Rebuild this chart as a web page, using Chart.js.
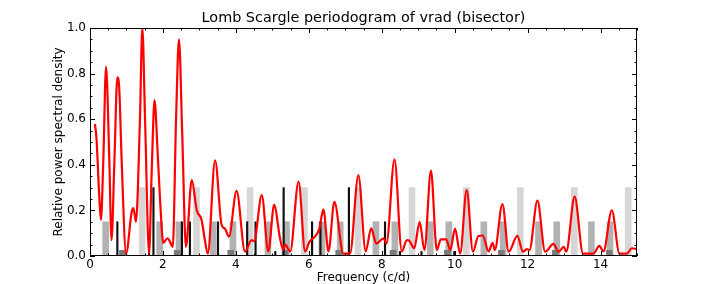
<!DOCTYPE html>
<html>
<head>
<meta charset="utf-8">
<script src="https://cdn.jsdelivr.net/npm/chart.js@4.4.1/dist/chart.umd.min.js"></script>
<style>
html,body{margin:0;padding:0;background:#ffffff;}
#wrap{width:708px;height:284px;}
</style>
</head>
<body>
<div id="wrap"><canvas id="c" width="708" height="284"></canvas></div>
<script>
// ---- data ----
const freq = [0.137,0.18,0.25,0.30,0.365,0.44,0.53,0.59,0.67,0.75,0.80,0.87,0.99,1.14,1.19,1.26,1.37,1.435,1.51,1.62,1.69,1.77,1.85,1.92,2.01,2.12,2.17,2.27,2.36,2.44,2.53,2.63,2.79,2.93,3.06,3.15,3.23,3.43,3.61,3.70,3.81,4.02,4.25,4.43,4.50,4.71,4.89,5.05,5.21,5.30,5.35,5.49,5.72,5.90,6.02,6.17,6.29,6.40,6.54,6.70,6.95,7.13,7.36,7.56,7.71,7.85,8.05,8.13,8.35,8.55,8.69,8.75,8.89,9.04,9.17,9.35,9.51,9.62,9.77,9.88,10.01,10.15,10.33,10.50,10.65,10.77,10.93,11.04,11.10,11.31,11.48,11.72,11.87,11.98,12.05,12.27,12.48,12.71,12.85,12.99,13.06,13.29,13.52,13.80,13.97,14.08,14.31,14.52,14.72,14.86,15.0];
const power = [0.579,0.51,0.275,0.158,0.42,0.83,0.42,0.07,0.42,0.784,0.74,0.41,0.01,0.19,0.21,0.15,0.60,1.0,0.60,0.01,0.36,0.684,0.47,0.25,0.057,0.077,0.07,0.04,0.60,0.95,0.53,0.04,0.333,0.20,0.158,0.07,0.01,0.42,0.136,0.12,0.085,0.286,0.019,0.07,0.065,0.267,0.02,0.224,0.078,0.026,0.05,0.02,0.326,0.02,0.063,0.085,0.12,0.205,0.02,0.238,0.01,0.01,0.355,0.02,0.121,0.055,0.077,0.055,0.424,0.02,0.07,0.068,0.034,0.15,0.026,0.374,0.026,0.073,0.073,0.026,0.12,0.01,0.29,0.019,0.088,0.09,0.02,0.058,0.026,0.228,0.019,0.088,0.019,0.03,0.026,0.243,0.019,0.053,0.019,0.04,0.019,0.26,0.01,0.01,0.044,0.02,0.20,0.01,0.01,0.034,0.03];

const lightBarFreq = [1.43,2.92,4.39,5.88,7.35,8.83,10.32,11.80,13.28,14.76];
const lightBarHeight = [0.3,0.3,0.3,0.3,0.3,0.3,0.3,0.3,0.3,0.3];

const midBarFreq = [0.43,1.91,2.44,3.38,3.92,4.88,5.39,6.36,6.86,7.84,8.36,9.33,9.84,10.80,11.33,12.30,12.80,13.75,14.26];
const midBarHeight = [0.15,0.15,0.15,0.15,0.15,0.15,0.15,0.15,0.15,0.15,0.15,0.15,0.15,0.15,0.15,0.15,0.15,0.15,0.15];

const darkBarFreq = [0.89,2.39,3.86,5.35,6.82,8.31,9.80,11.28,12.76,14.24];
const darkBarHeight = [0.025,0.025,0.025,0.025,0.025,0.025,0.025,0.025,0.025,0.025];

const lineMarkFreq = [0.75,1.62,1.74,2.52,2.74,3.51,4.31,4.54,5.08,5.31,6.09,6.32,7.10,8.09,8.50,9.09,9.99];
const lineMarkHeight = [0.15,0.02,0.3,0.15,0.15,0.15,0.15,0.15,0.02,0.3,0.15,0.15,0.3,0.15,0.02,0.02,0.02];

const xTickLabels = ['0','2','4','6','8','10','12','14'];
const yTickLabels = ['0.0','0.2','0.4','0.6','0.8','1.0'];

const titleText = 'Lomb Scargle periodogram of vrad (bisector)';
const xTitle = 'Frequency (c/d)';
const yTitle = 'Relative power spectral density';

// ---- chart ----
const FONT = "'DejaVu Sans', 'Bitstream Vera Sans', sans-serif";
Chart.defaults.font.family = FONT;
Chart.defaults.color = '#000';

function pts(xs, ys){ return xs.map((v,i)=>({x:v, y:ys[i]})); }

const frameTicks = {
  id: 'frameTicks',
  afterDatasetsDraw(chart){
    const {ctx, chartArea:a, scales:{x,y}} = chart;
    ctx.save();
    ctx.strokeStyle = '#000';
    ctx.lineWidth = 1;
    ctx.beginPath();
    for (let k = 0; k <= 30; k++) {
      const v = k * 0.5;
      const px = Math.round(x.getPixelForValue(v)) + 0.5;
      const len = (k % 4 === 0) ? 5 : 2.5;
      ctx.moveTo(px, a.bottom); ctx.lineTo(px, a.bottom - len);
      ctx.moveTo(px, a.top); ctx.lineTo(px, a.top + len);
    }
    for (let k = 0; k <= 20; k++) {
      const v = k * 0.05;
      const py = Math.round(y.getPixelForValue(v)) + 0.5;
      const len = (k % 4 === 0) ? 5 : 2.5;
      ctx.moveTo(a.left, py); ctx.lineTo(a.left + len, py);
      ctx.moveTo(a.right, py); ctx.lineTo(a.right - len, py);
    }
    ctx.stroke();
    ctx.strokeRect(Math.round(a.left)+0.5, Math.round(a.top)+0.5, Math.round(a.right-a.left)-1, Math.round(a.bottom-a.top)-1);
    ctx.restore();
  }
};

new Chart(document.getElementById('c'), {
  type: 'bar',
  data: {
    datasets: [
      { type:'line', data: pts(freq, power), borderColor:'#ff0000', borderWidth:2.2, pointRadius:0, fill:false, cubicInterpolationMode:'monotone', order:0 },
      { type:'bar', data: pts(lineMarkFreq, lineMarkHeight), backgroundColor:'#111111', barThickness:1.5, grouped:false, borderWidth:0, order:1 },
      { type:'bar', data: pts(darkBarFreq, darkBarHeight), backgroundColor:'#7a7a7a', barThickness:6, grouped:false, borderWidth:0, order:2 },
      { type:'bar', data: pts(midBarFreq, midBarHeight), backgroundColor:'#b2b2b2', barThickness:6, grouped:false, borderWidth:0, order:3 },
      { type:'bar', data: pts(lightBarFreq, lightBarHeight), backgroundColor:'#d6d6d6', barThickness:6, grouped:false, borderWidth:0, order:4 }
    ]
  },
  options: {
    responsive:false,
    animation:false,
    devicePixelRatio:1,
    layout:{ padding:{ left:0, right:71, top:0, bottom:0 } },
    plugins:{
      legend:{ display:false },
      tooltip:{ enabled:false },
      title:{ display:true, text:titleText, fullSize:false, font:{ size:14.4, weight:'normal', lineHeight:1.2 }, color:'#000', padding:{ top:10, bottom:0.7 } }
    },
    scales:{
      x:{
        type:'linear', min:0, max:15, offset:false,
        grid:{ display:false, drawTicks:false },
        border:{ display:false },
        ticks:{ stepSize:2, includeBounds:false, autoSkip:false, maxRotation:0, padding:2, font:{ size:12 }, color:'#000',
          callback:(v)=>{ const i = Math.round(v/2); return (Math.abs(v - i*2) < 1e-6 && i < xTickLabels.length) ? xTickLabels[i] : ''; } },
        title:{ display:true, text:xTitle, font:{ size:12 }, color:'#000', padding:{ top:0, bottom:-1 } },
        afterFit:(s)=>{ s.height = 28; }
      },
      y:{
        min:0, max:1,
        grid:{ display:false, drawTicks:false },
        border:{ display:false },
        ticks:{ stepSize:0.2, padding:4, font:{ size:12 }, color:'#000',
          callback:(v)=>{ const i = Math.round(v/0.2); return (Math.abs(v - i*0.2) < 1e-6) ? yTickLabels[i] : ''; } },
        title:{ display:true, text:yTitle, font:{ size:12 }, color:'#000', padding:{ top:52, bottom:0 } },
        afterFit:(s)=>{ s.width = 90; }
      }
    }
  },
  plugins:[frameTicks]
});
</script>
</body>
</html>
